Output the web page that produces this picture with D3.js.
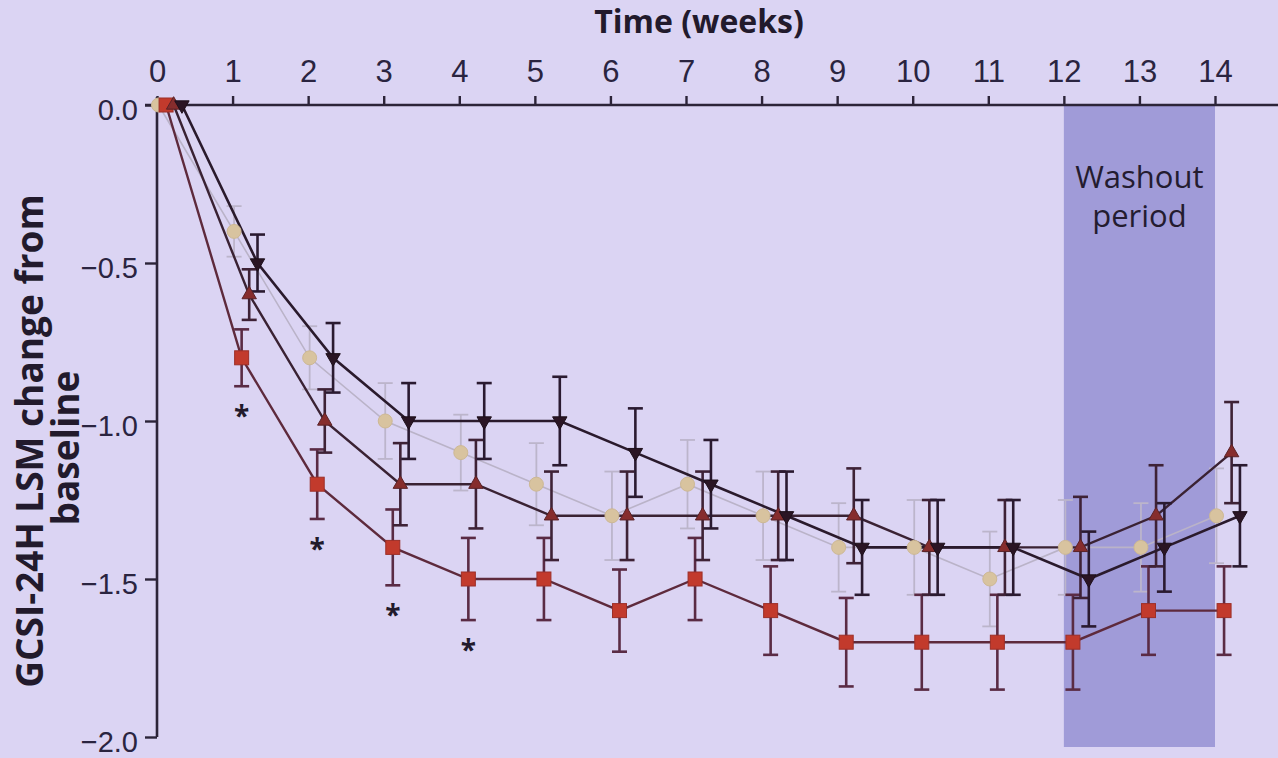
<!DOCTYPE html>
<html>
<head>
<meta charset="utf-8">
<script src="https://cdn.jsdelivr.net/npm/d3@7/dist/d3.min.js"></script>
<style>
  body { margin: 0; background: #dbd4f3; }
  svg { display: block; font-family: "Open Sans", "Noto Sans", sans-serif; }
</style>
</head>
<body>
<div class="chart"></div>
<script>
// ---- data ----
var weeks = [0, 1, 2, 3, 4, 5, 6, 7, 8, 9, 10, 11, 12, 13, 14];
var xTicks = [0, 1, 2, 3, 4, 5, 6, 7, 8, 9, 10, 11, 12, 13, 14];
var yTicks = [0, -0.5, -1.0, -1.5, -2.0];

var tanValues  = [0, -0.4, -0.8, -1.0, -1.1, -1.2, -1.3, -1.2, -1.3, -1.4, -1.4, -1.5, -1.4, -1.4, -1.3];
var tanErrors  = [0, 0.08, 0.10, 0.12, 0.12, 0.13, 0.14, 0.14, 0.14, 0.14, 0.15, 0.15, 0.15, 0.14, 0.15];

var redValues  = [0, -0.8, -1.2, -1.4, -1.5, -1.5, -1.6, -1.5, -1.6, -1.7, -1.7, -1.7, -1.7, -1.6, -1.6];
var redErrors  = [0, 0.09, 0.11, 0.12, 0.13, 0.13, 0.13, 0.13, 0.14, 0.14, 0.15, 0.15, 0.15, 0.14, 0.14];

var upValues   = [0, -0.6, -1.0, -1.2, -1.2, -1.3, -1.3, -1.3, -1.3, -1.3, -1.4, -1.4, -1.4, -1.3, -1.1];
var upErrors   = [0, 0.08, 0.10, 0.13, 0.14, 0.14, 0.14, 0.14, 0.14, 0.15, 0.15, 0.15, 0.16, 0.16, 0.16];

var downValues = [0, -0.5, -0.8, -1.0, -1.0, -1.0, -1.1, -1.2, -1.3, -1.4, -1.4, -1.4, -1.5, -1.4, -1.3];
var downErrors = [0, 0.09, 0.11, 0.12, 0.12, 0.14, 0.14, 0.14, 0.14, 0.15, 0.15, 0.15, 0.15, 0.14, 0.16];

var starWeeks = [1, 2, 3, 4];
var washout = [12, 14];

// ---- layout ----
var width = 1278,
    height = 758;

var xScale = d3.scaleLinear().domain([0, 14]).range([157, 1215]);
var yScale = d3.scaleLinear().domain([0, -2]).range([105, 737]);

var series = [
  { id: 'tan',  values: tanValues,  errors: tanErrors,  shift: 0.02, line: '#bab3c8', bar: '#bcb5cb', fill: '#d8c39f', stroke: '#cdb894', marker: 'circle', lw: 1.6 },
  { id: 'red',  values: redValues,  errors: redErrors,  shift: 0.12, line: '#5e2a3c', bar: '#5a2b44', fill: '#c23a2c', stroke: '#9c2f28', marker: 'square', lw: 2.4 },
  { id: 'up',   values: upValues,   errors: upErrors,   shift: 0.22, line: '#3a2233', bar: '#3e2236', fill: '#862d2d', stroke: '#5a2227', marker: 'up', lw: 2.4 },
  { id: 'down', values: downValues, errors: downErrors, shift: 0.33, line: '#2a1a2c', bar: '#2a1a30', fill: '#2a1524', stroke: '#1d0f1a', marker: 'down', lw: 2.6 }
];

var svg = d3.select(".chart").append("svg")
    .attr("width", width)
    .attr("height", height);

svg.append("rect")
    .attr("width", width)
    .attr("height", height)
    .attr("fill", "#dbd4f3");

// washout band
svg.append("rect")
    .attr("x", xScale(washout[0]))
    .attr("y", yScale(0))
    .attr("width", xScale(washout[1]) - xScale(washout[0]))
    .attr("height", yScale(-2.0) - yScale(0) + 10)
    .attr("fill", "#a09bd8");

var wx = (xScale(washout[0]) + xScale(washout[1])) / 2;

svg.append("text")
    .attr("x", wx)
    .attr("y", 188)
    .attr("text-anchor", "middle")
    .style("font-size", "31px")
    .style("fill", "#241c30")
    .text("Washout");

svg.append("text")
    .attr("x", wx)
    .attr("y", 227)
    .attr("text-anchor", "middle")
    .style("font-size", "31px")
    .style("fill", "#241c30")
    .text("period");

// ---- axes ----
var xaxis = d3.axisTop(xScale)
    .tickValues(xTicks)
    .tickSize(9)
    .tickPadding(14)
    .tickFormat(d3.format("d"));

var gx = svg.append("g")
    .attr("class", "axis")
    .attr("transform", "translate(0," + yScale(0) + ")")
    .call(xaxis);

gx.select(".domain").remove();
gx.append("line")
    .attr("x1", 145)
    .attr("x2", width)
    .attr("stroke", "#2c2438")
    .attr("stroke-width", 2.6);

var yaxis = d3.axisLeft(yScale)
    .tickValues(yTicks)
    .tickSize(12)
    .tickPadding(7)
    .tickFormat(d3.format(".1f"));

var gy = svg.append("g")
    .attr("class", "axis")
    .attr("transform", "translate(" + xScale(0) + ",0)")
    .call(yaxis);

gy.select(".domain").remove();
gy.append("line")
    .attr("y1", yScale(0) - 8)
    .attr("y2", yScale(-2.0))
    .attr("stroke", "#2c2438")
    .attr("stroke-width", 2.6);

svg.selectAll(".axis .tick line")
    .attr("stroke", "#2c2438")
    .attr("stroke-width", 2.4);

gx.selectAll(".tick text")
    .style("font-size", "31px")
    .style("fill", "#2a2440");

gy.selectAll(".tick text")
    .attr("dy", "0.5em")
    .style("font-size", "29px")
    .style("fill", "#2a2440");

// axis titles
svg.append("text")
    .attr("x", 699)
    .attr("y", 33)
    .attr("text-anchor", "middle")
    .style("font-size", "32px")
    .style("font-weight", "bold")
    .style("fill", "#221a2c")
    .text("Time (weeks)");

svg.append("text")
    .attr("transform", "translate(43,441) rotate(-90)")
    .attr("text-anchor", "middle")
    .style("font-size", "37px")
    .style("font-weight", "bold")
    .style("fill", "#221a2c")
    .text("GCSI-24H LSM change from");

svg.append("text")
    .attr("transform", "translate(79,448) rotate(-90)")
    .attr("text-anchor", "middle")
    .style("font-size", "37px")
    .style("font-weight", "bold")
    .style("fill", "#221a2c")
    .text("baseline");

// ---- series ----
var line = d3.line()
    .x(function(d) { return d.x; })
    .y(function(d) { return d.y; });

series.forEach(function(s) {
  var pts = weeks.map(function(w, i) {
    return {
      x: xScale(w + s.shift),
      y: yScale(s.values[i]),
      lo: yScale(s.values[i] - s.errors[i]),
      hi: yScale(s.values[i] + s.errors[i]),
      err: s.errors[i]
    };
  });
  s.pts = pts;

  var g = svg.append("g").attr("class", "series-" + s.id);

  // error bars
  var bars = g.selectAll(".err")
      .data(pts.filter(function(p) { return p.err > 0; }))
      .enter()
      .append("g")
      .attr("stroke", s.bar)
      .attr("stroke-width", s.id == 'tan' ? 1.8 : 2.6);

  bars.append("line")
      .attr("x1", function(d) { return d.x; })
      .attr("x2", function(d) { return d.x; })
      .attr("y1", function(d) { return d.hi; })
      .attr("y2", function(d) { return d.lo; });

  bars.append("line")
      .attr("x1", function(d) { return d.x - 7.5; })
      .attr("x2", function(d) { return d.x + 7.5; })
      .attr("y1", function(d) { return d.hi; })
      .attr("y2", function(d) { return d.hi; });

  bars.append("line")
      .attr("x1", function(d) { return d.x - 7.5; })
      .attr("x2", function(d) { return d.x + 7.5; })
      .attr("y1", function(d) { return d.lo; })
      .attr("y2", function(d) { return d.lo; });

  g.append("path")
      .attr("d", line(pts))
      .attr("fill", "none")
      .attr("stroke", s.line)
      .attr("stroke-width", s.lw);
});

// markers on top
series.forEach(function(s) {
  var g = svg.append("g").attr("class", "markers-" + s.id);
  var m = g.selectAll(".pt")
      .data(s.pts)
      .enter();

  if (s.marker == 'circle') {
    m.append("circle")
      .attr("cx", function(d) { return d.x; })
      .attr("cy", function(d) { return d.y; })
      .attr("r", 7)
      .attr("fill", s.fill)
      .attr("stroke", s.stroke)
      .attr("stroke-width", 1);
  } else if (s.marker == 'square') {
    m.append("rect")
      .attr("x", function(d) { return d.x - 7; })
      .attr("y", function(d) { return d.y - 7; })
      .attr("width", 14)
      .attr("height", 14)
      .attr("fill", s.fill)
      .attr("stroke", s.stroke)
      .attr("stroke-width", 1);
  } else {
    var sym = d3.symbol().type(d3.symbolTriangle).size(90);
    m.append("path")
      .attr("d", sym)
      .attr("transform", function(d) {
        return "translate(" + d.x + "," + d.y + ")" + (s.marker == 'down' ? " rotate(180)" : "");
      })
      .attr("fill", s.fill)
      .attr("stroke", s.stroke)
      .attr("stroke-width", 1);
  }
});

// significance stars under the red series
var red = series[1];
svg.selectAll(".star")
    .data(starWeeks)
    .enter()
    .append("text")
    .attr("x", function(w) { return red.pts[weeks.indexOf(w)].x; })
    .attr("y", function(w) { return red.pts[weeks.indexOf(w)].lo + 40; })
    .attr("text-anchor", "middle")
    .style("font-size", "28px")
    .style("font-weight", "bold")
    .style("fill", "#221a2c")
    .text("*");
</script>
</body>
</html>
